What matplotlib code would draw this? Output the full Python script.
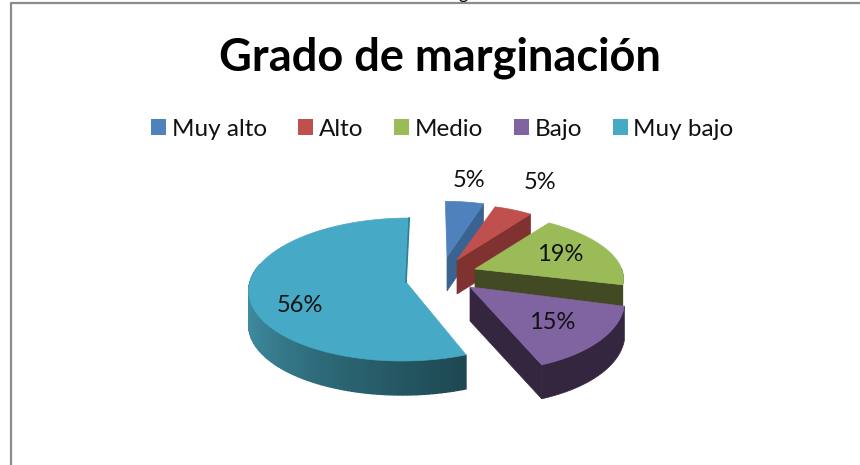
import numpy as np
import matplotlib
matplotlib.use('Agg')
import matplotlib.pyplot as plt
from matplotlib.colors import LinearSegmentedColormap
from matplotlib.patches import Patch

# ----------------------- DATA ----------------------- #
categories = ['Muy alto', 'Alto', 'Medio', 'Bajo', 'Muy bajo']
values = [5, 5, 19, 15, 56]

# ----------------------- STYLE ---------------------- #
top_colors = ['#4f81bd', '#c0504d', '#9bbb59', '#8064a2', '#46a9c5']
wall_colors = ['#3a6391', '#7f3230', '#414a23', '#35263f', '#2f7f95']
centers = [(447, 257), (457, 260), (475, 269), (470, 287), (406, 282)]
scales = [0.87, 0.87, 0.94, 0.98, 1.0]
yscales = [1.0, 1.0, 0.93, 1.09, 1.0]
skews = [0.03, 0.0, 0.12, 0.12, -0.05]
label_pos = [(469, 180), (540, 182), (560, 254), (552, 322), (300, 305)]
RX, RY, K, DEPTH = 156, 70.7, 0.105, 34

plt.rcParams['font.family'] = ['Lato', 'DejaVu Sans']

fig = plt.figure(figsize=(8.6, 4.65), dpi=100)
ax = fig.add_axes([0, 0, 1, 1])
ax.set_xlim(0, 860)
ax.set_ylim(465, 0)
ax.axis('off')


def arc(a0, a1, i, n=60):
    """Points of the rim of slice i, angles in degrees, with a little perspective."""
    t = np.radians(np.linspace(a0, a1, n))
    u, v = np.cos(t), np.sin(t)
    w = 1 + K * v
    dy = -scales[i] * yscales[i] * RY * v / w
    return centers[i][0] + scales[i] * RX * u / w + skews[i] * dy, centers[i][1] + dy


# clockwise from 12 o'clock, same order as the legend
edges = 90 - 3.6 * np.concatenate([[0], np.cumsum(values)])
wall_cmap = LinearSegmentedColormap.from_list('wall', ['#4795ab', '#3b8599', '#2b6573', '#1d4852'])

for i in range(len(values)):
    a0, a1 = edges[i], edges[i + 1]
    c = centers[i]
    x, y = arc(a0, a1, i)

    if i == len(values) - 1:
        # big slice: shaded rim, drawn as thin strips
        t = np.linspace(-195, a0, 90)
        for j in range(len(t) - 1):
            sx, sy = arc(t[j], t[j + 1], i, n=3)
            ax.fill(np.r_[sx, sx[::-1]], np.r_[sy, sy[::-1] + DEPTH],
                    color=wall_cmap(j / (len(t) - 2)), lw=1.0)
    else:
        # cut face on the clockwise side
        ax.fill([c[0], x[-1], x[-1], c[0]], [c[1], y[-1], y[-1] + DEPTH, c[1] + DEPTH],
                color=wall_colors[i], lw=0.5)
        # rim, only the part that looks at the viewer
        keep = np.sin(np.radians(np.linspace(a0, a1, len(x)))) < 0.02
        if keep.sum() > 1:
            ax.fill(np.r_[x[keep], x[keep][::-1]], np.r_[y[keep], y[keep][::-1] + DEPTH],
                    color=wall_colors[i], lw=0.5)

    ax.fill(np.r_[c[0], x], np.r_[c[1], y], color=top_colors[i], lw=0.5)
    if i == len(values) - 1:
        # inner cut, barely visible
        ax.plot([c[0], x[-1]], [c[1], y[-1]], color=wall_colors[i], lw=1.2)
    ax.text(label_pos[i][0], label_pos[i][1], f'{values[i]}%', fontsize=17,
            ha='center', va='center', color='#111111')

# page frame of the screenshot
ax.plot([10.5, 10.5, 860], [465, 3.5, 3.5], color='#8c8c8c', lw=1.6, clip_on=False)
ax.text(463, -1, 'g', fontsize=13, ha='center', va='baseline', color='black')

ax.text(440, 58, 'Grado de marginación', fontsize=32.5, fontweight='bold',
        ha='center', va='center', color='black')

handles = [Patch(facecolor=col, edgecolor='none') for col in top_colors]
ax.legend(handles, categories, ncol=5, frameon=False, fontsize=17.5,
          loc='center', bbox_to_anchor=(442.5 / 860, 1 - 129 / 465),
          handlelength=0.6, handleheight=0.6, handletextpad=0.24,
          columnspacing=1.28, borderpad=0, labelcolor='#111111')

fig.savefig('out.png', dpi=100)
